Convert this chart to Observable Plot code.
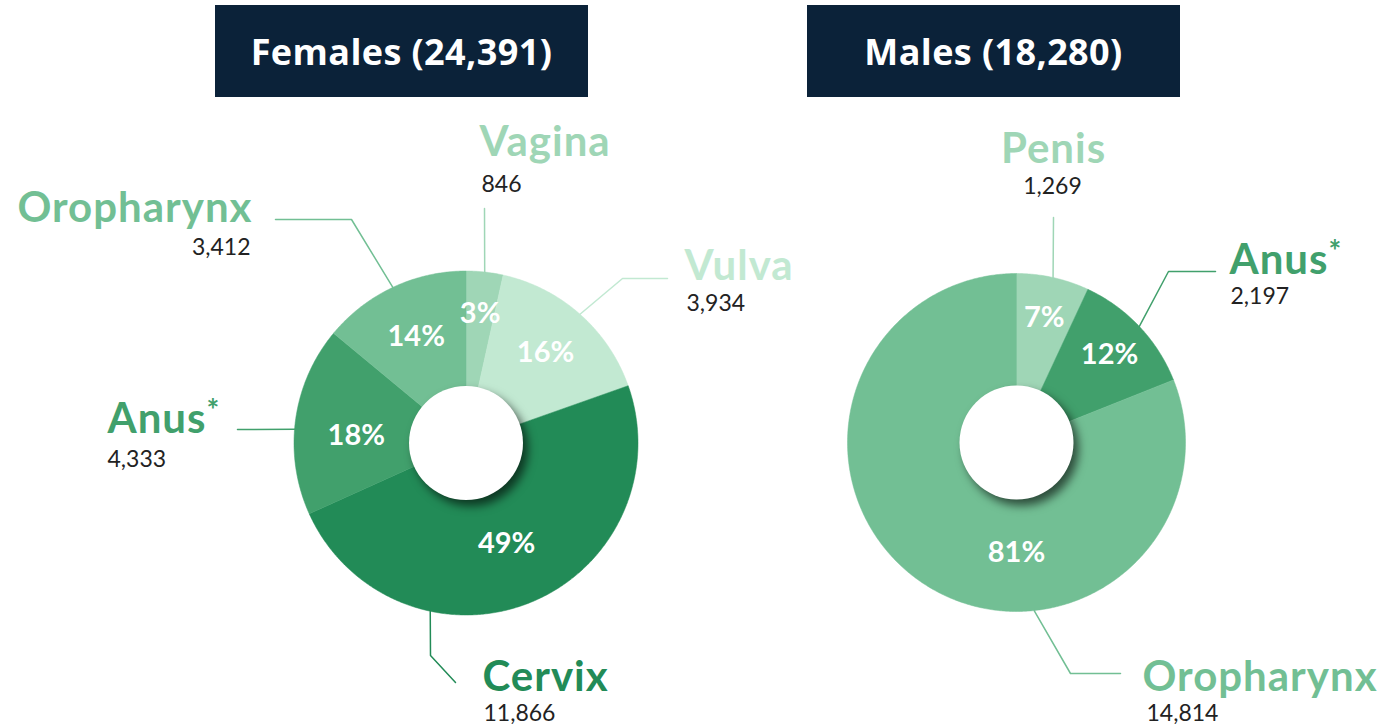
<!DOCTYPE html>
<html>
<head>
<meta charset="utf-8">
<script src="https://cdn.jsdelivr.net/npm/d3@7"></script>
<script src="https://cdn.jsdelivr.net/npm/@observablehq/plot@0.6"></script>
<style>
  body { margin: 0; background: #ffffff; }
  #wrap { position: relative; width: 1383px; height: 724px; overflow: hidden; }
  #header { position: relative; height: 100px; }
  .tbox { position: absolute; top: 5px; height: 92px; width: 373px; background: #0b2239; color: #ffffff;
          font-family: "Open Sans", sans-serif; font-weight: 700; font-size: 36px; letter-spacing: 0.4px;
          display: flex; align-items: center; justify-content: center; }
  #chart svg { display: block; }
</style>
</head>
<body>
<div id="wrap">
  <div id="header"></div>
  <div id="chart"></div>
</div>
<script>
// ---------------- DATA ----------------
const groups = ["Females", "Males"];
const femaleSites = ["Vagina", "Vulva", "Cervix", "Anus*", "Oropharynx"];
const femaleCounts = [846, 3934, 11866, 4333, 3412];
const maleSites = ["Penis", "Anus*", "Oropharynx"];
const maleCounts = [1269, 2197, 14814];

// colour per site
const siteNames = ["Vagina", "Vulva", "Cervix", "Anus*", "Oropharynx", "Penis"];
const siteColors = ["#9fd6b6", "#c2e9d2", "#228b57", "#41a06c", "#72bf94", "#9fd6b6"];

// ---------------- LAYOUT (page pixels) ----------------
const layout = {
  Females: {
    cx: 465.5, cy: 442.5, r: 172, hole: 57, boxLeft: 215,
    slices: {
      "Vagina":     { labelR: 130, knees: [[484, 208]], name: [479, 155, "start"], num: [481, 191] },
      "Vulva":      { labelR: 120, knees: [[622, 278], [667, 278]], name: [684, 279, "start"], num: [686, 310] },
      "Cervix":     { labelR: 109, leaderAngle: 192, knees: [[430, 655], [455, 682]], name: [482, 690, "start"], num: [483, 720] },
      "Anus*":      { labelR: 110, labelAngle: 274, leaderAngle: 274.6, knees: [[237, 429]], name: [107, 432, "start"], num: [107, 466] },
      "Oropharynx": { labelR: 117, knees: [[351, 219], [275, 219]], name: [252, 221, "end"], num: [250, 254] }
    }
  },
  Males: {
    cx: 1016, cy: 442, r: 169, hole: 57, boxLeft: 807,
    slices: {
      "Penis":      { labelR: 128, knees: [[1053, 217]], name: [1053, 162, "middle"], num: [1052, 193] },
      "Anus*":      { labelR: 128, knees: [[1168, 271], [1215, 271]], name: [1229, 273, "start"], num: [1230, 303] },
      "Oropharynx": { labelR: 110, labelAngle: 180, leaderAngle: 174, knees: [[1070, 673], [1120, 673]], name: [1142, 690, "start"], num: [1146, 720] }
    }
  }
};

// ---------------- BUILD ----------------
const fmt = d3.format(",");
const rad = (deg) => deg * Math.PI / 180;
const series = {
  Females: femaleSites.map((s, i) => ({ group: "Females", site: s, count: femaleCounts[i] })),
  Males: maleSites.map((s, i) => ({ group: "Males", site: s, count: maleCounts[i] }))
};

const header = document.getElementById("header");
for (const g of groups) {
  const total = d3.sum(series[g], d => d.count);
  const div = document.createElement("div");
  div.className = "tbox";
  div.style.left = layout[g].boxLeft + "px";
  div.textContent = `${g} (${fmt(total)})`;
  header.appendChild(div);
}

const sectorPts = [], leaderPts = [], pctLabels = [], nameLabels = [], numLabels = [], holes = [];
for (const g of groups) {
  const L = layout[g];
  const rows = series[g];
  const total = d3.sum(rows, d => d.count);
  const arcs = d3.pie().sort(null).value(d => d.count)(rows);
  const pt = (a, r) => [L.cx + r * Math.sin(a), L.cy - r * Math.cos(a)];
  holes.push({ group: g, x: L.cx, y: L.cy });
  arcs.forEach((a) => {
    const d = a.data;
    const key = g + "-" + d.site;
    const S = L.slices[d.site];
    // sector polygon
    sectorPts.push({ key, site: d.site, x: L.cx, y: L.cy });
    const n = Math.max(2, Math.ceil((a.endAngle - a.startAngle) / rad(0.5)));
    for (let k = 0; k <= n; k++) {
      const ang = a.startAngle + (a.endAngle - a.startAngle) * k / n;
      const [x, y] = pt(ang, L.r);
      sectorPts.push({ key, site: d.site, x, y });
    }
    sectorPts.push({ key, site: d.site, x: L.cx, y: L.cy });
    const mid = (a.startAngle + a.endAngle) / 2;
    // percent label
    const la = S.labelAngle != null ? rad(S.labelAngle) : mid;
    const [lx, ly] = pt(la, S.labelR);
    pctLabels.push({ x: lx, y: ly, text: Math.round(d.count / total * 100) + "%" });
    // leader line
    const ea = S.leaderAngle != null ? rad(S.leaderAngle) : mid;
    const [ex, ey] = pt(ea, L.r);
    leaderPts.push({ key, site: d.site, x: ex, y: ey });
    for (const [kx, ky] of S.knees) leaderPts.push({ key, site: d.site, x: kx, y: ky });
    // names and counts
    nameLabels.push({ site: d.site, x: S.name[0], y: S.name[1], anchor: S.name[2], text: d.site });
    numLabels.push({ x: S.num[0], y: S.num[1], anchor: S.name[2], text: fmt(d.count) });
  });
}

const nameFont = { fontFamily: "Lato, sans-serif", fontWeight: 700, fontSize: 42, lineAnchor: "bottom" };
const numFont = { fontFamily: "Lato, sans-serif", fontWeight: 400, fontSize: 23, lineAnchor: "bottom", fill: "#222222" };
const anchors = ["start", "middle", "end"];

const chart = Plot.plot({
  width: 1383,
  height: 624,
  margin: 0,
  x: { domain: [0, 1383], range: [0, 1383], axis: null },
  y: { domain: [100, 724], range: [0, 624], axis: null },
  color: { domain: siteNames, range: siteColors },
  style: { background: "white", overflow: "visible" },
  marks: [
    Plot.line(sectorPts, { x: "x", y: "y", z: "key", fill: "site", stroke: "site", strokeWidth: 0.5, curve: "linear" }),
    Plot.line(leaderPts, { x: "x", y: "y", z: "key", stroke: "site", strokeWidth: 1.5, curve: "linear" }),
    Plot.dot(holes, { x: "x", y: "y", r: 57, fill: "white", stroke: "none" }),
    Plot.text(pctLabels, { x: "x", y: "y", text: "text", fill: "white", fontFamily: "Lato, sans-serif", fontWeight: 700, fontSize: 29, lineAnchor: "middle" }),
    ...anchors.map(an => Plot.text(nameLabels.filter(d => d.anchor === an), { x: "x", y: "y", text: "text", fill: "site", textAnchor: an, ...nameFont })),
    ...anchors.map(an => Plot.text(numLabels.filter(d => d.anchor === an), { x: "x", y: "y", text: "text", textAnchor: an, ...numFont }))
  ]
});
document.getElementById("chart").appendChild(chart);

// hole shadow and superscript asterisk
d3.select(chart).selectAll("circle").style("filter", "drop-shadow(5px 6px 5px rgba(0,0,0,0.6))");
d3.select(chart).selectAll("text").filter(function () { return this.textContent === "Anus*"; })
  .each(function () {
    const t = d3.select(this);
    t.text("Anus").style("letter-spacing", "1px");
    t.append("tspan").attr("dy", "-12").attr("font-size", 30).text("*");
  });
d3.select(chart).selectAll("text").filter(function () { return ["Vagina","Vulva","Cervix","Oropharynx","Penis","Anus"].includes(this.textContent); })
  .style("letter-spacing", "1px");
</script>
</body>
</html>
